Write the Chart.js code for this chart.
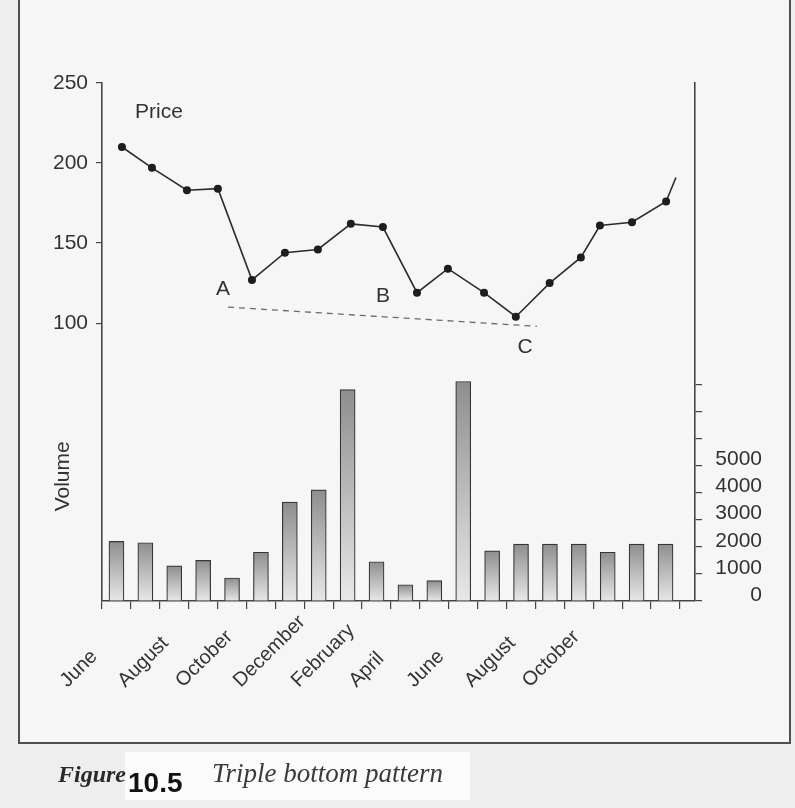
<!DOCTYPE html>
<html lang="en">
<head>
<meta charset="UTF-8" />
<title>Triple bottom pattern</title>
<script src="https://cdn.jsdelivr.net/npm/chart.js@4.4.1/dist/chart.umd.min.js"></script>
<style>
  html, body { margin: 0; padding: 0; background: #efefef; }
  canvas { display: block; }
</style>
</head>
<body>
<canvas id="chart" width="795" height="808"></canvas>
<script>
  // monthly volume, first bar is June
  const volume = [2200, 2150, 1300, 1500, 850, 1800, 3650, 4100, 7800, 1450,
                  600, 750, 8100, 1850, 2100, 2100, 2100, 1800, 2100, 2100];

  // price line, x given in month (bar) units
  const priceX = [0.19, 1.23, 2.44, 3.51, 4.69, 5.83, 6.97, 8.11, 9.22, 10.40,
                  11.47, 12.72, 13.82, 14.99, 16.07, 16.73, 17.84, 19.02, 19.36];
  const priceY = [210, 197, 183, 184, 127, 144, 146, 162, 160, 119,
                  134, 119, 104, 125, 141, 161, 163, 176, 191];

  // dashed support line under the bottoms A .. C
  const supportX = [3.86, 14.55];
  const supportY = [110, 98];

  // tick labels
  const monthLabels = ['June', 'August', 'October', 'December', 'February', 'April', 'June', 'August', 'October'];
  const monthLabelAt = [0, 2, 4, 6, 8, 10, 12, 14, 16];
  const priceTicks = [100, 150, 200, 250];
  const volumeTicks = [0, 1000, 2000, 3000, 4000, 5000, 6000, 7000, 8000];
  const volumeLabelMax = 5000;

  // text notes placed in data units (x in months, y in price)
  const notes = [
    { text: 'Price', x: 1.47, y: 232 },
    { text: 'A', x: 3.69, y: 121 },
    { text: 'B', x: 9.22, y: 117 },
    { text: 'C', x: 14.14, y: 85 }
  ];

  const FONT = '"Liberation Sans", Arial, sans-serif';
  const INK = '#333';
  const AXIS = '#454545';

  const W = 795, H = 808;
  const AREA = { left: 102, right: 695, top: 83, bottom: 601 };
  const VOL_LABEL_END = 762;

  const slotEdges = [];
  for (let i = 0; i <= volume.length; i++) slotEdges.push(i - 0.5);

  //page, frame and caption
  const paper = {
    id: 'paper',
    beforeDraw(chart) {
      const ctx = chart.ctx;
      ctx.save();
      ctx.fillStyle = '#eeeeee';
      ctx.fillRect(0, 0, W, H);
      ctx.fillStyle = '#f6f6f6';
      ctx.fillRect(19, 0, 771, 743);
      ctx.fillStyle = '#fbfbfb';
      ctx.fillRect(125, 752, 345, 48);

      ctx.strokeStyle = '#505050';
      ctx.lineWidth = 2;
      ctx.beginPath();
      ctx.moveTo(19, 0);
      ctx.lineTo(19, 743);
      ctx.lineTo(790, 743);
      ctx.lineTo(790, 0);
      ctx.stroke();

      ctx.fillStyle = '#2a2a2a';
      ctx.textBaseline = 'alphabetic';
      ctx.textAlign = 'left';
      ctx.font = 'italic bold 24px "Liberation Serif", serif';
      ctx.fillText('Figure', 58, 782);
      ctx.fillStyle = '#111';
      ctx.font = 'bold 28px ' + FONT;
      ctx.fillText('10.5', 128, 792);
      ctx.fillStyle = '#3a3a3a';
      ctx.font = 'italic 27px "Liberation Serif", serif';
      ctx.fillText('Triple bottom pattern', 212, 782);
      ctx.restore();
    }
  };

  //letters, axis titles and month labels
  const notesPlugin = {
    id: 'notes',
    afterDatasetsDraw(chart) {
      const { ctx, scales: { x, yPrice, yVol } } = chart;
      ctx.save();
      ctx.fillStyle = INK;
      ctx.font = '21px ' + FONT;
      ctx.textAlign = 'center';
      ctx.textBaseline = 'middle';
      notes.forEach(n => {
        ctx.fillText(n.text, x.getPixelForValue(n.x), yPrice.getPixelForValue(n.y));
      });

      ctx.save();
      ctx.translate(chart.chartArea.left - 39, yVol.getPixelForValue(4600));
      ctx.rotate(-Math.PI / 2);
      ctx.fillText('Volume', 0, 0);
      ctx.restore();

      ctx.font = '20px ' + FONT;
      ctx.textAlign = 'left';
      ctx.textBaseline = 'alphabetic';
      monthLabels.forEach((m, i) => {
        ctx.save();
        ctx.translate(x.getPixelForValue(monthLabelAt[i]) - 49, x.top + 87);
        ctx.rotate(-Math.PI / 4);
        ctx.fillText(m, 0, 0);
        ctx.restore();
      });
      ctx.restore();
    }
  };

  function barShade(c) {
    const chart = c.chart;
    if (!chart.chartArea || c.type !== 'data') return '#b0b0b0';
    const y = chart.scales.yVol;
    const top = y.getPixelForValue(c.raw.y);
    const base = y.getPixelForValue(0);
    const g = chart.ctx.createLinearGradient(0, top, 0, base);
    g.addColorStop(0, '#8e8e8e');
    g.addColorStop(1, '#e8e8e8');
    return g;
  }

  const data = {
    datasets: [
      {
        type: 'line',
        label: 'Price',
        data: priceX.map((v, i) => ({ x: v, y: priceY[i] })),
        yAxisID: 'yPrice',
        borderColor: '#2c2c2c',
        borderWidth: 1.6,
        pointRadius: priceX.map((v, i) => i === priceX.length - 1 ? 0 : 3.2),
        pointBackgroundColor: '#1e1e1e',
        pointBorderColor: '#1e1e1e',
        tension: 0
      },
      {
        type: 'line',
        label: 'Support',
        data: supportX.map((v, i) => ({ x: v, y: supportY[i] })),
        yAxisID: 'yPrice',
        borderColor: '#6a6a6a',
        borderWidth: 1.3,
        borderDash: [6, 5],
        pointRadius: 0
      },
      {
        type: 'bar',
        label: 'Volume',
        data: volume.map((v, i) => ({ x: i, y: v })),
        yAxisID: 'yVol',
        backgroundColor: barShade,
        borderColor: '#363636',
        borderWidth: 1.2,
        borderSkipped: 'bottom',
        barThickness: 15
      }
    ]
  };

  const config = {
    data: data,
    options: {
      responsive: false,
      animation: false,
      devicePixelRatio: 1,
      layout: { padding: { top: AREA.top, left: 0, right: W - VOL_LABEL_END, bottom: 0 } },
      plugins: { legend: { display: false }, tooltip: { enabled: false } },
      scales: {
        x: {
          type: 'linear',
          position: 'bottom',
          offset: false,
          min: -0.5,
          max: 20.02,
          afterBuildTicks: axis => { axis.ticks = slotEdges.map(v => ({ value: v })); },
          afterFit: axis => { axis.height = H - AREA.bottom; },
          ticks: { display: false },
          grid: { offset: false, drawOnChartArea: false, drawTicks: true, tickLength: 8, color: AXIS, lineWidth: 1.2 },
          border: { color: AXIS, width: 1.6 }
        },
        yPrice: {
          type: 'linear',
          position: 'left',
          min: -73.6,
          max: 250,
          afterBuildTicks: axis => { axis.ticks = priceTicks.map(v => ({ value: v })); },
          afterFit: axis => { axis.width = AREA.left; },
          ticks: { color: INK, font: { family: FONT, size: 21 }, padding: 8 },
          grid: { drawOnChartArea: false, tickLength: 6, color: AXIS, lineWidth: 1.2 },
          border: { color: AXIS, width: 1.6 }
        },
        yVol: {
          type: 'linear',
          position: 'right',
          min: 0,
          max: (AREA.bottom - AREA.top) / 27.1 * 1000,
          afterBuildTicks: axis => { axis.ticks = volumeTicks.map(v => ({ value: v })); },
          afterFit: axis => { axis.width = VOL_LABEL_END - AREA.right; },
          ticks: {
            color: INK,
            font: { family: FONT, size: 21 },
            padding: 13,
            crossAlign: 'far',
            labelOffset: -6,
            callback: v => v <= volumeLabelMax ? String(v) : ''
          },
          grid: { drawOnChartArea: false, tickLength: 7, color: AXIS, lineWidth: 1.2 },
          border: { color: AXIS, width: 1.6 }
        }
      }
    },
    plugins: [paper, notesPlugin]
  };

  const myChart = new Chart(document.getElementById('chart'), config);
</script>
</body>
</html>
